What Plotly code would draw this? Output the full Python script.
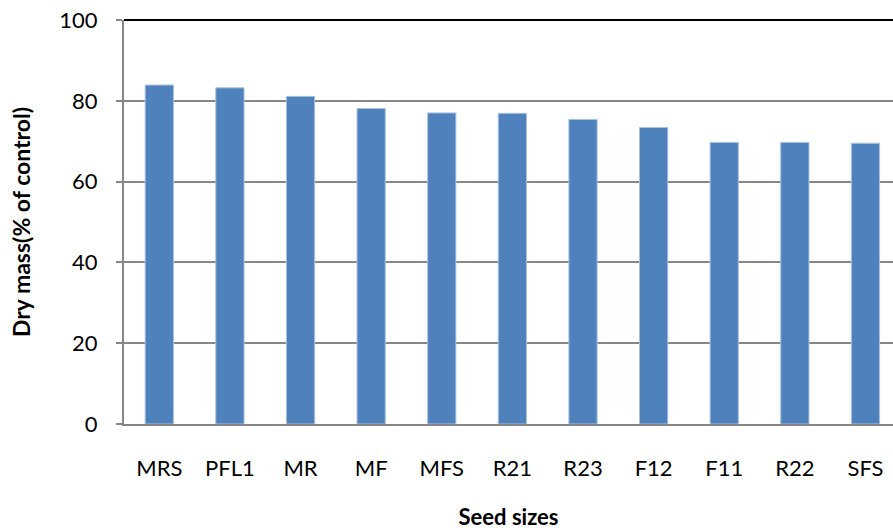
import plotly.graph_objects as go

categories = ["MRS", "PFL1", "MR", "MF", "MFS", "R21", "R23", "F12", "F11", "R22", "SFS"]
dry_mass = [83.9, 83.2, 81.1, 78.1, 77.0, 76.9, 75.4, 73.4, 69.7, 69.7, 69.5]
y_ticks = [0, 20, 40, 60, 80, 100]

FONT = "Lato, Calibri, sans-serif"

fig = go.Figure()
fig.add_trace(go.Bar(
    x=categories, y=dry_mass,
    marker=dict(color="#4F81BD", line=dict(color="#A9C1E0", width=1)),
    width=0.4,
))

fig.update_layout(
    width=893, height=530,
    margin=dict(l=124, r=0, t=20, b=106),
    paper_bgcolor="white", plot_bgcolor="white",
    showlegend=False,
    font=dict(family=FONT, size=22, color="black"),
    xaxis=dict(
        range=[-0.5, 10.39],
        showline=True, linecolor="#878787", linewidth=2,
        ticks="", tickfont=dict(size=22), ticklabelstandoff=24,
        title=dict(text="<b>Seed sizes</b>", font=dict(size=22), standoff=30),
        showgrid=False,
    ),
    yaxis=dict(
        range=[0, 100], tickvals=y_ticks,
        showline=True, linecolor="#878787", linewidth=2,
        ticks="outside", ticklen=6, tickcolor="#878787", tickwidth=1.5,
        ticklabelstandoff=14, ticklabeloverflow="allow",
        showgrid=True, gridcolor="#878787", gridwidth=1.5,
        tickfont=dict(size=22),
        title=dict(text="<b>Dry mass(% of control)</b>", font=dict(size=23), standoff=22),
        zeroline=False,
    ),
    shapes=[dict(type="line", xref="paper", yref="paper", x0=0, x1=1, y0=1, y1=1,
                 line=dict(color="black", width=2), layer="above")],
)

fig.write_html("out.html", config={"displayModeBar": False},
               post_script="document.body.style.margin='0';")
